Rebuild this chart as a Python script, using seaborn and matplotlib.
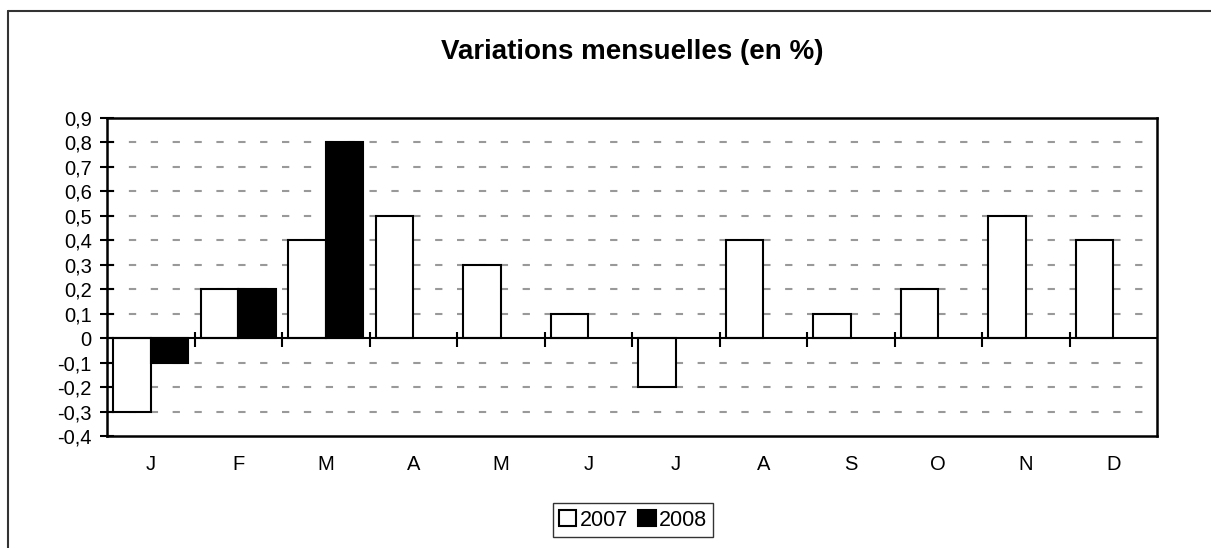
import pandas as pd
import matplotlib.pyplot as plt
import numpy as np
import seaborn as sns
from matplotlib.lines import Line2D

months = ['J', 'F', 'M', 'A', 'M', 'J', 'J', 'A', 'S', 'O', 'N', 'D']
v2007 = [-0.3, 0.2, 0.4, 0.5, 0.3, 0.1, -0.2, 0.4, 0.1, 0.2, 0.5, 0.4]
v2008 = [-0.1, 0.2, 0.8, np.nan, np.nan, np.nan, np.nan, np.nan, np.nan, np.nan, np.nan, np.nan]
years = ['2007', '2008']
yticks = [-0.4, -0.3, -0.2, -0.1, 0, 0.1, 0.2, 0.3, 0.4, 0.5, 0.6, 0.7, 0.8, 0.9]


def main():
    sns.set_style('white')
    plt.rcParams['font.family'] = ['Liberation Sans', 'DejaVu Sans']
    plt.rcParams['text.color'] = 'black'
    plt.rcParams['xtick.color'] = 'black'
    plt.rcParams['ytick.color'] = 'black'

    pos = list(range(len(months)))
    df = pd.DataFrame({
        'pos': pos * 2,
        'val': v2007 + v2008,
        'year': [years[0]] * 12 + [years[1]] * 12,
    })

    fig = plt.figure(figsize=(12.11, 5.48), dpi=100)
    ax = fig.add_axes([107 / 1211, 1 - 436 / 548, 1050 / 1211, 318 / 548])

    sns.barplot(data=df, x='pos', y='val', hue='year', hue_order=years,
                palette={'2007': 'white', '2008': 'black'}, width=0.86,
                edgecolor='black', linewidth=1.5, ax=ax, errorbar=None,
                order=pos)

    handles, labels = ax.get_legend_handles_labels()
    if ax.get_legend() is not None:
        ax.get_legend().remove()

    ax.set_xlim(-0.5, 11.5)
    ax.set_ylim(-0.4, 0.9)
    ax.set_yticks(yticks)
    ax.set_yticklabels([('%g' % t).replace('.', ',') for t in yticks], fontsize=14.5)
    ax.set_xticks(pos)
    ax.set_xticklabels(months, fontsize=14.5)
    ax.tick_params(axis='x', length=0, pad=14)
    ax.tick_params(axis='y', direction='inout', length=10, width=1.5, left=True, pad=6)
    ax.set_xlabel('')
    ax.set_ylabel('')

    # pointilles gris
    for t in yticks[1:-1]:
        if t == 0:
            continue
        ax.axhline(t, color='#999999', lw=1.5, ls=(0, (3.5, 7)), zorder=0)
    ax.axhline(0, color='black', lw=1.5, zorder=3)
    ax.vlines(np.arange(0.5, 11, 1), -0.037, 0.024, color='black', lw=1.5, zorder=3)

    for s in ax.spines.values():
        s.set_color('black')
        s.set_linewidth(1.8)
        s.set_visible(True)

    fig.text(632 / 1211, 1 - 52 / 548, 'Variations mensuelles (en %)', ha='center',
             va='center', fontsize=20, fontweight='bold')

    leg = fig.legend(handles, labels, loc='center', bbox_to_anchor=(633 / 1211, 1 - 520 / 548),
                     ncol=2, fontsize=15.5, frameon=True, fancybox=False, edgecolor='black',
                     handlelength=0.8, handleheight=0.8, handletextpad=0.15,
                     columnspacing=0.5, borderpad=0.3, borderaxespad=0)
    leg.get_frame().set_linewidth(1.0)

    # cadre exterieur
    fig.add_artist(Line2D([8 / 1211, 8 / 1211], [0, 1 - 11 / 548], color='#333333', lw=1.5))
    fig.add_artist(Line2D([8 / 1211, 1], [1 - 11 / 548, 1 - 11 / 548], color='#333333', lw=1.5))

    fig.savefig('out.png', dpi=100)


if __name__ == '__main__':
    main()
